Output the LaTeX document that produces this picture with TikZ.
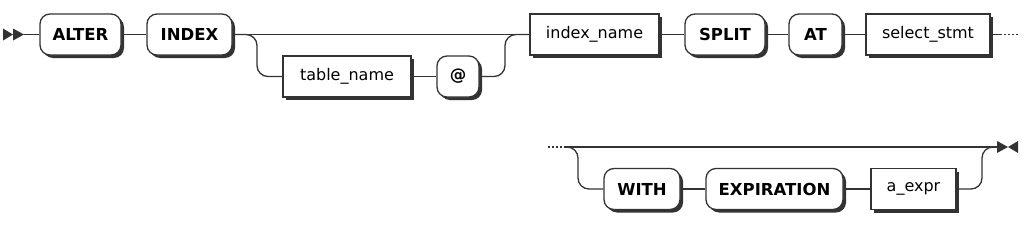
\documentclass[tikz,border=0pt]{standalone}
\usepackage{fontspec}
\setmainfont{DejaVu Sans}
\newfontfamily\kwfont{DejaVu Sans Bold}
\usetikzlibrary{shadows}

\begin{document}
\begin{tikzpicture}[
      x=1pt, y=-1pt,
      track/.style={draw=black!80, line width=1.3pt},
      box/.style={
          draw=black!80,
          line width=1.3pt,
          fill=white,
          minimum height=41pt,
          inner sep=0pt,
          font=\fontsize{16}{18}\selectfont,
          drop shadow={shadow xshift=3pt, shadow yshift=-3pt, fill=black!80, opacity=1}
        },
      keyword/.style={box, rounded corners=10pt, font=\kwfont\fontsize{16.5}{18}\selectfont},
      rule/.style={box, rectangle},
      tip/.style={fill=black!80}
    ]
    \useasboundingbox (0,0) rectangle (1031,225);

    % first line
    \node[keyword, minimum width=81pt] (alter) at (80.5,34.5) {ALTER};
    \node[keyword, minimum width=85pt] (index) at (189.5,34.5) {INDEX};
    \node[rule, minimum width=128pt] (tablename) at (347,76.5) {table\_name};
    \node[keyword, minimum width=42pt] (atsign) at (458,76.5) {@};
    \node[rule, minimum width=129pt] (indexname) at (594.5,34.5) {index\_name};
    \node[keyword, minimum width=80pt] (split) at (725,34.5) {SPLIT};
    \node[keyword, minimum width=53pt] (atkw) at (815.5,34.5) {AT};
    \node[rule, minimum width=124pt] (selectstmt) at (928,34.5) {select\_stmt};

    \coordinate (begin) at (24,34.5);
    \coordinate (optL) at (257,76.5);
    \coordinate (optR) at (505,76.5);
    \coordinate (more) at (1000,34.5);
    \coordinate (moreEnd) at (1018,34.5);

    \fill[tip] (3,28.5) -- (13,34.5) -- (3,40.5) -- cycle;
    \fill[tip] (13,28.5) -- (24,34.5) -- (13,40.5) -- cycle;
    \draw[track] (begin) -- (alter);
    \draw[track] (alter) -- (index);
    \draw[track] (index) -- (indexname);
    \draw[track, rounded corners=11pt] (index.east) -| (optL) -- (tablename.west);
    \draw[track] (tablename) -- (atsign);
    \draw[track, rounded corners=11pt] (atsign.east) -- (optR) |- (indexname.west);
    \draw[track] (indexname) -- (split);
    \draw[track] (split) -- (atkw);
    \draw[track] (atkw) -- (selectstmt);
    \draw[track] (selectstmt) -- (more);
    \draw[track, dash pattern=on 1.5pt off 2.5pt] (more) -- (moreEnd);

    % second line
    \node[keyword, minimum width=76pt] (with) at (642,189) {WITH};
    \node[keyword, minimum width=137pt] (expiration) at (774.5,189) {EXPIRATION};
    \node[rule, minimum width=85pt] (aexpr) at (913.5,189) {a\_expr};

    \coordinate (cont) at (548,147);
    \coordinate (contEnd) at (565,147);
    \coordinate (withL) at (578,189);
    \coordinate (withR) at (982,189);
    \coordinate (finish) at (997,147);

    \draw[track, dash pattern=on 1.5pt off 2.5pt] (cont) -- (contEnd);
    \draw[track] (contEnd) -- (finish);
    \draw[track, rounded corners=11pt] (contEnd) -| (withL) -- (with.west);
    \draw[track] (with) -- (expiration);
    \draw[track] (expiration) -- (aexpr);
    \draw[track, rounded corners=11pt] (aexpr.east) -- (withR) |- (finish);
    \fill[tip] (997,141) -- (1008,147) -- (997,153) -- cycle;
    \fill[tip] (1018,141) -- (1008,147) -- (1018,153) -- cycle;
  \end{tikzpicture}
\end{document}
